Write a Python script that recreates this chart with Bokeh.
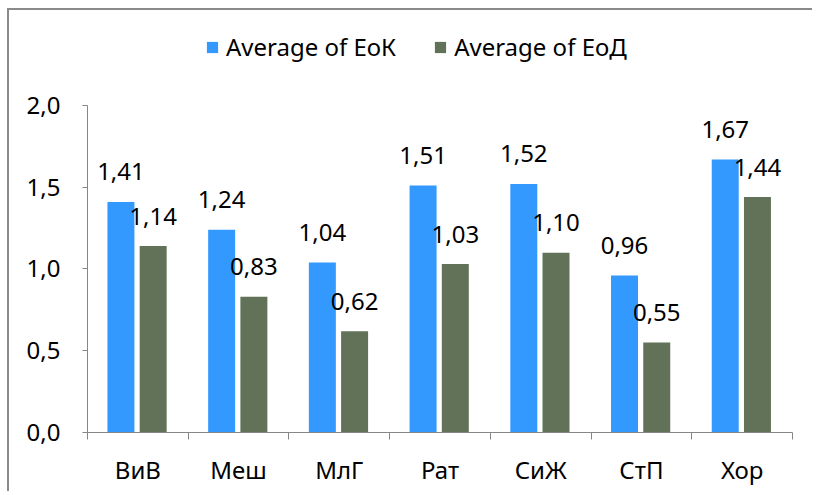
from bokeh.plotting import figure
from bokeh.models import (ColumnDataSource, Range1d, FixedTicker, CustomJSTickFormatter,
                          Legend, LegendItem)
from bokeh.core.properties import value
from bokeh.embed import file_html
from bokeh.resources import INLINE

categories = ["ВиВ", "Меш", "МлГ", "Рат", "СиЖ", "СтП", "Хор"]
eok = [1.41, 1.24, 1.04, 1.51, 1.52, 0.96, 1.67]
eod = [1.14, 0.83, 0.62, 1.03, 1.10, 0.55, 1.44]
series_names = ["Average of ЕоК", "Average of ЕоД"]
y_ticks = [0, 0.5, 1.0, 1.5, 2.0]

BLUE = "#3399FF"
GREEN = "#617259"
AXIS = "#868686"
FONT = "Noto Sans"

idx = list(range(len(categories)))
src = ColumnDataSource(dict(
    xk=[i + 0.5 - 0.168 for i in idx],
    xd=[i + 0.5 + 0.152 for i in idx],
    eok=eok, eod=eod,
    lk=[f"{v:.2f}".replace(".", ",") for v in eok],
    ld=[f"{v:.2f}".replace(".", ",") for v in eod],
))

p = figure(width=805, height=483, output_backend="svg", toolbar_location=None,
           x_range=Range1d(0, len(categories)), y_range=Range1d(0, 2.581),
           min_border_left=78, min_border_top=0, min_border_right=22, min_border_bottom=61)
p.styles = {"margin-left": "7px", "margin-top": "8px",
            "border-left": "2px solid #8a8a8a", "border-top": "2px solid #8a8a8a",
            "border-right": "none", "border-bottom": "none",
            "outline": "none", "box-shadow": "none"}
p.outline_line_color = None
p.xgrid.visible = False
p.ygrid.visible = False
p.background_fill_color = "white"
p.border_fill_color = "white"

rk = p.vbar(x="xk", top="eok", width=0.268, source=src, fill_color=BLUE, line_color=None)
rd = p.vbar(x="xd", top="eod", width=0.268, source=src, fill_color=GREEN, line_color=None)

for xcol, ycol, lcol in (("xk", "eok", "lk"), ("xd", "eod", "ld")):
    p.text(x=xcol, y=ycol, text=lcol, source=src, text_font=value(FONT),
           text_font_size="24px", text_color="black", text_align="center",
           text_baseline="alphabetic", y_offset=-30)

# y axis
ya = p.yaxis[0]
ya.bounds = (0, 2.0)
ya.ticker = FixedTicker(ticks=y_ticks)
ya.formatter = CustomJSTickFormatter(code="return tick.toFixed(1).replace('.', ',');")
ya.axis_line_color = AXIS
ya.major_tick_line_color = AXIS
ya.major_tick_out = 5
ya.major_tick_in = 0
ya.minor_tick_line_color = None
ya.major_label_text_font = FONT
ya.major_label_text_font_size = "24px"
ya.major_label_text_color = "black"
ya.major_label_standoff = 22

# x axis
xa = p.xaxis[0]
xa.ticker = FixedTicker(ticks=[i + 0.5 for i in idx], minor_ticks=list(range(len(categories) + 1)))
xa.formatter = CustomJSTickFormatter(args=dict(cats=categories),
                                     code="return cats[Math.floor(tick)];")
xa.axis_line_color = AXIS
xa.major_tick_line_color = None
xa.major_tick_out = 0
xa.major_tick_in = 0
xa.minor_tick_line_color = AXIS
xa.minor_tick_out = 7
xa.minor_tick_in = 0
xa.major_label_text_font = FONT
xa.major_label_text_font_size = "24px"
xa.major_label_text_color = "black"
xa.major_label_standoff = 13

legend = Legend(items=[LegendItem(label=series_names[0], renderers=[rk]),
                       LegendItem(label=series_names[1], renderers=[rd])],
                orientation="horizontal", location=(118, 369),
                glyph_width=14, glyph_height=14, label_standoff=7, spacing=37,
                padding=0, margin=0, border_line_color=None, background_fill_alpha=0,
                label_text_font=FONT, label_text_font_size="24px", label_text_color="black")
p.add_layout(legend, "center")

open("out.html", "w").write(file_html(p, INLINE))
